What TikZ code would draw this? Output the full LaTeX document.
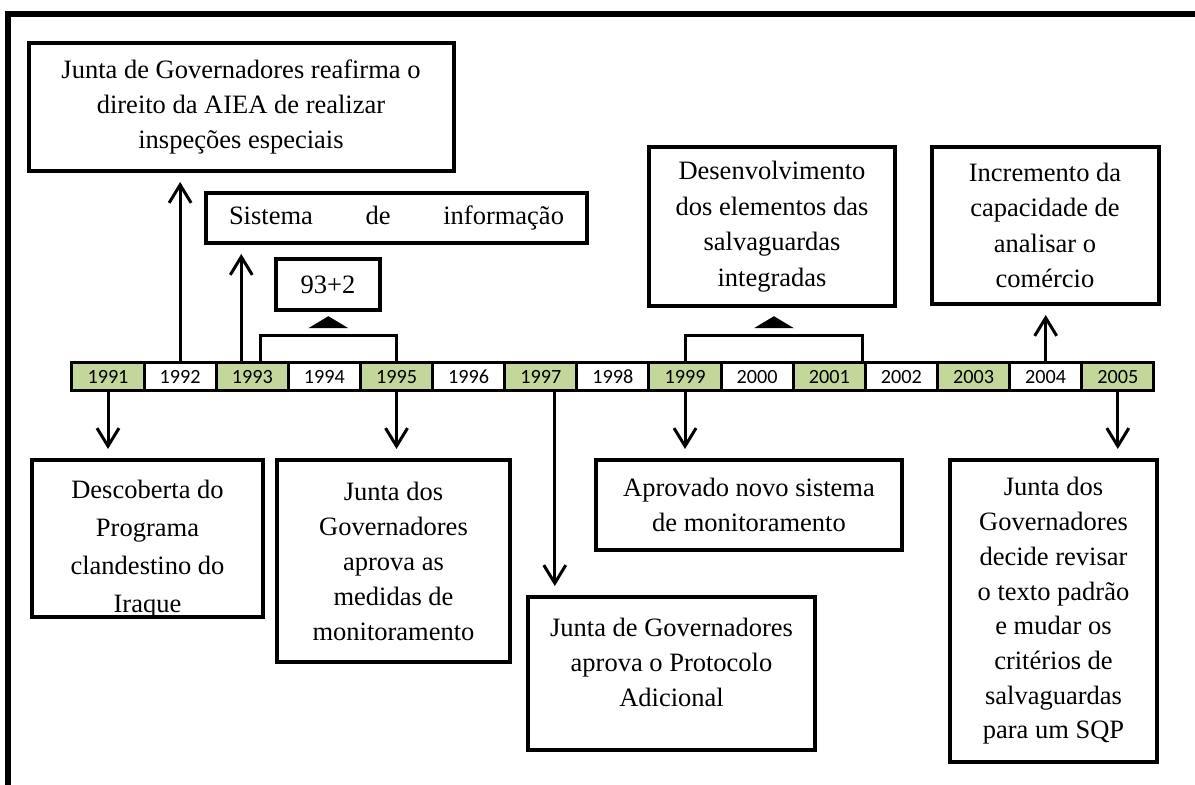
\documentclass[tikz,border=0pt]{standalone}
\usepackage{fontspec}
\setmainfont{Liberation Serif}
\newfontfamily\yearfont{Carlito}
\usetikzlibrary{arrows.meta,calc}
\definecolor{yeargreen}{RGB}{196,215,155}

\begin{document}
\begin{tikzpicture}[x=0.5pt,y=-0.5pt,
    box/.style={draw,line width=2pt,align=center,inner sep=0pt,
      font=\fontsize{13.25}{17.5}\selectfont},
    year/.style={draw,line width=1.5pt,minimum width=36.07pt,minimum height=14pt,
      inner sep=0pt,font=\yearfont\fontsize{10.1}{12}\selectfont},
    link/.style={line width=1.5pt,-{Straight Barb[length=9pt,width=11pt]},shorten >=4.5pt},
    bracket/.style={line width=1.5pt}]

  \useasboundingbox (0,0) rectangle (1195,785);
  \draw[line width=3pt] (7.5,800) -- (7.5,14) -- (1210,14);

  \foreach \yr [count=\i from 0] in {1991,...,2005}{
    \ifodd\yr \def\yc{yeargreen}\else\def\yc{white}\fi
    \node[year,fill=\yc] (y\yr) at (108+72.13*\i,376.7) {\yr};
  }

  \node[box,minimum width=212.5pt,minimum height=64pt] (reafirma) at (241,107)
    {Junta de Governadores reafirma o\\direito da AIEA de realizar\\inspeções especiais};
  \node[box,minimum width=190.5pt,minimum height=25pt] (sistema) at (396.5,218)
    {\makebox[167.5pt]{Sistema\hfill de\hfill informação}};
  \node[box,minimum width=52pt,minimum height=25.5pt] (mais) at (328,284.5) {93+2};
  \node[box,font=\fontsize{13.25}{17.75}\selectfont,minimum width=123pt,minimum height=79.5pt]
    (desenv) at (772,226.5)
    {Desenvolvimento\\dos elementos das\\salvaguardas\\integradas};
  \node[box,font=\fontsize{13.25}{17.75}\selectfont,minimum width=113.5pt,minimum height=78.5pt]
    (incremento) at (1045,225.5)
    {Incremento da\\capacidade de\\analisar o\\comércio};

  \begin{scope}
    \clip (32,460) rectangle (263,617);
    \node[align=center,font=\fontsize{13.25}{19}\selectfont] (descobertaTxt) at (147.5,549)
      {Descoberta do\\Programa\\clandestino do\\Iraque};
  \end{scope}
  \node[box,minimum width=115.5pt,minimum height=78.5pt] (descoberta) at (147.5,538.5) {};
  \node[box,minimum width=116.5pt,minimum height=101pt] (juntados) at (393.5,561)
    {Junta dos\\Governadores\\aprova as\\medidas de\\monitoramento};
  \node[box,text depth=11pt,minimum width=143.5pt,minimum height=76.5pt] (protocolo) at (671.5,673.5)
    {Junta de Governadores\\aprova o Protocolo\\Adicional};
  \node[box,minimum width=153pt,minimum height=45pt] (aprovado) at (749,505)
    {Aprovado novo sistema\\de monitoramento};
  \node[box,font=\fontsize{13.25}{17.35}\selectfont,minimum width=103.5pt,minimum height=151pt]
    (revisar) at (1053.5,611)
    {Junta dos\\Governadores\\decide revisar\\o texto padrão\\e mudar os\\critérios de\\salvaguardas\\para um SQP};

  \draw[link] (y1991.south) -- (y1991.south |- descoberta.north);
  \draw[link] (y1992.north) -- (y1992.north |- reafirma.south);
  \draw[link] ([xshift=-5.5pt]y1993.north) -- ([xshift=-5.5pt]y1993.north |- sistema.south);
  \draw[link] (y1995.south) -- (y1995.south |- juntados.north);
  \draw[link] ([xshift=7pt]y1997.south) -- ([xshift=7pt]y1997.south |- protocolo.north);
  \draw[link] (y1999.south) -- (y1999.south |- aprovado.north);
  \draw[link] (y2004.north) -- (y2004.north |- incremento.south);
  \draw[link] (y2005.south) -- (y2005.south |- revisar.north);

  \draw[bracket] ([xshift=4pt]y1993.north) -- ++(0,-26) coordinate (b1) -| (y1995.north);
  \path (b1) -- (b1 -| y1995.north) coordinate[midway] (t1);
  \fill (t1) ++(-20,-7) -- ++(40,0) -- ++(-20,-12) -- cycle;
  \coordinate (r2) at ([xshift=-2pt]y2001.north east);
  \draw[bracket] (y1999.north) -- ++(0,-26) coordinate (b2) -| (r2);
  \path (b2) -- (b2 -| r2) coordinate[midway] (t2);
  \fill (t2) ++(-20,-7) -- ++(40,0) -- ++(-20,-12) -- cycle;
\end{tikzpicture}
\end{document}
